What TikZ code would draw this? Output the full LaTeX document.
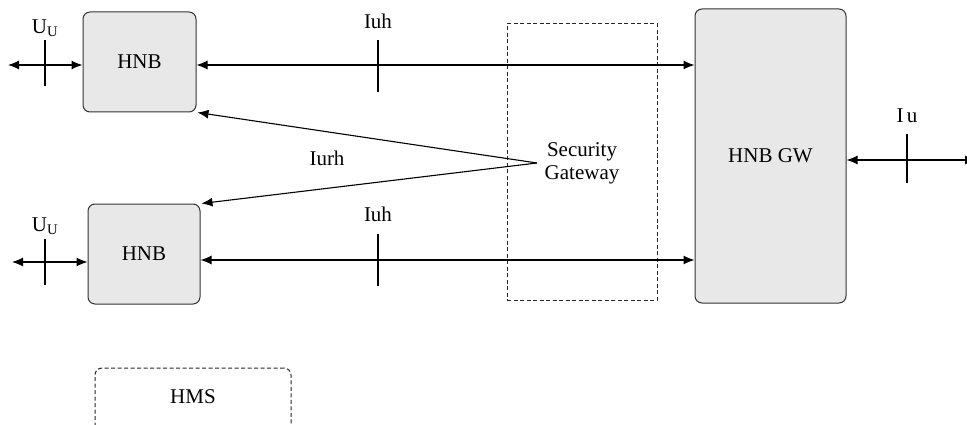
\documentclass[tikz,border=0pt]{standalone}
\usepackage{fontspec}
\setmainfont{Liberation Serif}
\usetikzlibrary{arrows.meta}
\begin{document}
\begin{tikzpicture}[x=1pt,y=-1pt,
  font=\fontsize{21}{26}\selectfont,
  box/.style={draw=black!80, fill=black!9, rounded corners=7pt, line width=1pt, inner sep=0pt},
  dbox/.style={draw=black!85, dash pattern=on 4pt off 2.5pt, line width=1pt, inner sep=0pt},
  conn/.style={line width=1.1pt, {Latex[length=11pt,width=9pt]}-{Latex[length=11pt,width=9pt]}},
  oneway/.style={line width=1.1pt, -{Latex[length=11pt,width=9pt]}},
  tick/.style={line width=1.1pt},
  lbl/.style={inner sep=0pt}]
\useasboundingbox (0,0) rectangle (967,425);
\begin{scope}
\clip (0,0) rectangle (967,425);
% boxes
\node[box, minimum width=113pt, minimum height=100pt] (hnb1) at (139.5,62) {HNB};
\node[box, minimum width=112pt, minimum height=100pt] (hnb2) at (144,254) {HNB};
\node[box, minimum width=151pt, minimum height=294pt] (gw) at (770.5,156) {HNB GW};
\node[dbox, minimum width=150pt, minimum height=276pt] (segw) at (582,162) {};
\node[lbl, align=center] (segwtxt) at (582,163) {Security\\[-3pt]Gateway};
\node[dbox, rounded corners=7pt, minimum width=196pt, minimum height=64pt] (hms) at (193,400) {};
\node[lbl] (hmstxt) at (193,397) {HMS};
% free ends
\coordinate (uu1) at (8,65);
\coordinate (uu2) at (12,262);
\coordinate (iuend) at (976,160);
\coordinate (sgp) at (537,163);
% connectors
\draw[conn] (uu1) -- (hnb1.west |- uu1);
\draw[conn] (uu2) -- (hnb2.west |- uu2);
\draw[conn] (hnb1.east |- 0,65) -- (gw.west |- 0,65);
\draw[conn] (hnb2.east |- 0,260) -- (gw.west |- 0,260);
\draw[conn] (gw.east |- iuend) -- (iuend);
\draw[oneway] (sgp) -- ([xshift=1pt]hnb1.south east);
\draw[oneway] (sgp) -- ([xshift=1pt]hnb2.north east);
% ticks
\draw[tick] (45,40) -- (45,86);
\draw[tick] (45,239) -- (45,285);
\draw[tick] (378,40) -- (378,92);
\draw[tick] (378,234) -- (378,286);
\draw[tick] (907,134) -- (907,183);
% labels
\node[lbl] (uulbl1) at (45,28) {U\textsubscript{U}};
\node[lbl] (uulbl2) at (45,226) {U\textsubscript{U}};
\node[lbl] (iuhlbl1) at (378,21) {Iuh};
\node[lbl] (iuhlbl2) at (378,214) {Iuh};
\node[lbl] (iurhlbl) at (327,158) {Iurh};
\node[lbl] (iulbl) at (907,116) {I\,u};
\end{scope}
\end{tikzpicture}
\end{document}
